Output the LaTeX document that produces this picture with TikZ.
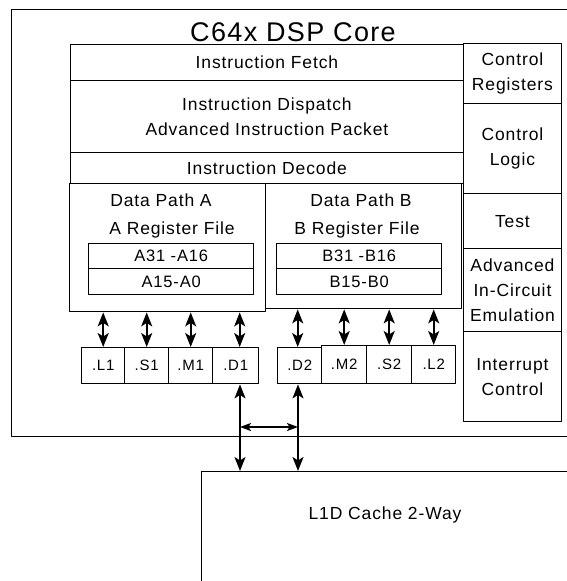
\documentclass[tikz,border=0pt]{standalone}
\usepackage{fontspec}
\setmainfont{Liberation Sans}[LetterSpace=5]
\usetikzlibrary{arrows.meta}

\tikzset{
  blk/.style={draw, line width=1.4pt, inner sep=0pt, anchor=north west, align=center,
    font=\fontsize{17.5}{25}\selectfont},
  lbl/.style={inner sep=0pt, align=center, font=\fontsize{17.5}{25}\selectfont},
  ublk/.style={blk, minimum height=36pt, font=\fontsize{15}{18}\selectfont},
  rblk/.style={blk, minimum width=165pt, font=\fontsize{16.5}{20}\selectfont},
  bus/.style={line width=1.7pt, {Stealth[length=14pt,width=11pt,inset=3.5pt]}-{Stealth[length=14pt,width=11pt,inset=3.5pt]}},
  xbus/.style={line width=1.4pt, {Stealth[length=11pt,width=8pt,inset=2.5pt]}-{Stealth[length=11pt,width=8pt,inset=2.5pt]}}
}

\begin{document}
\begin{tikzpicture}[x=1pt, y=-1pt, line cap=round, line join=round]
	\useasboundingbox (0,0) rectangle (567,581);
	\clip (0,0) rectangle (567,581);

	% core and cache
	\node [blk, minimum width=620pt, minimum height=427pt] (core) at (11,9) {};
	\node [lbl, font=\fontsize{27}{30}\selectfont] (title) at (293,32) {C64x DSP Core};
	\node [blk, minimum width=420pt, minimum height=160pt] (cache) at (201,471) {};
	\node [lbl] (cachetxt) at (385,515) {L1D Cache 2-Way};

	% instruction pipe
	\node [blk, minimum width=392.5pt, minimum height=36pt] (fetch) at (70,44) {Instruction Fetch};
	\node [blk, minimum width=392.5pt, minimum height=72pt] (dispatch) at (70,80) {Instruction Dispatch\\Advanced Instruction Packet};
	\node [blk, minimum width=392.5pt, minimum height=31pt] (decode) at (70,152) {Instruction Decode};

	% control column
	\node [blk, minimum width=98.5pt, minimum height=60.5pt] (ctlreg) at (462.5,42.5) {Control\\Registers};
	\node [blk, minimum width=98.5pt, minimum height=90pt] (ctllog) at (462.5,103) {Control\\Logic};
	\node [blk, minimum width=98.5pt, minimum height=55pt] (test) at (462.5,193) {Test};
	\node [blk, minimum width=98.5pt, minimum height=83pt] (emu) at (462.5,248) {Advanced\\In-Circuit\\Emulation};
	\node [blk, minimum width=98.5pt, minimum height=90pt] (intr) at (462.5,331) {Interrupt\\Control};

	% data paths
	\node [blk, minimum width=196pt, minimum height=128pt] (dpA) at (69,183) {};
	\node [blk, minimum width=196pt, minimum height=125pt] (dpB) at (265,183) {};
	\node [lbl] (dpAtxt) at (161,200) {Data Path A};
	\node [lbl] (dpBtxt) at (361,200) {Data Path B};
	\node [lbl] (rfAtxt) at (172,230) {A Register File};
	\node [lbl] (rfBtxt) at (357,230) {B Register File};
	\node [rblk, minimum height=25pt] (regAhi) at (88,243) {A31 -A16};
	\node [rblk, minimum height=26pt] (regAlo) at (88,268) {A15-A0};
	\node [rblk, minimum height=25pt] (regBhi) at (276,243) {B31 -B16};
	\node [rblk, minimum height=26pt] (regBlo) at (276,268) {B15-B0};

	% functional units
	\node [ublk, minimum width=43pt] (L1) at (81,347) {.L1};
	\node [ublk, minimum width=44pt] (S1) at (124,347) {.S1};
	\node [ublk, minimum width=44pt] (M1) at (168,347) {.M1};
	\node [ublk, minimum width=46pt] (D1) at (212,347) {.D1};
	\node [ublk, minimum width=44pt] (D2) at (277,347) {.D2};
	\node [ublk, minimum width=45pt, minimum height=38pt] (M2) at (321,345) {.M2};
	\node [ublk, minimum width=45pt, minimum height=38pt] (S2) at (366,345) {.S2};
	\node [ublk, minimum width=44pt, minimum height=38pt] (L2) at (411,345) {.L2};

	% register file to units
	\draw [bus] (L1.north) -- (L1.north |- dpA.south);
	\draw [bus] (S1.north) -- (S1.north |- dpA.south);
	\draw [bus] (M1.north) -- (M1.north |- dpA.south);
	\draw [bus] ([xshift=4pt]D1.north) -- ([xshift=4pt]D1.north |- dpA.south);
	\draw [bus] ([xshift=-2pt]D2.north) -- ([xshift=-2pt]D2.north |- dpB.south);
	\draw [bus] (M2.north) -- (M2.north |- dpB.south);
	\draw [bus] (S2.north) -- (S2.north |- dpB.south);
	\draw [bus] (L2.north) -- (L2.north |- dpB.south);

	% units to cache
	\coordinate (xa) at (240,427);
	\coordinate (xb) at (298,427);
	\draw [bus] (xa |- D1.south) -- (xa |- cache.north);
	\draw [bus] (xb |- D2.south) -- (xb |- cache.north);
	\draw [xbus] (xa) -- (xb);
\end{tikzpicture}
\end{document}
